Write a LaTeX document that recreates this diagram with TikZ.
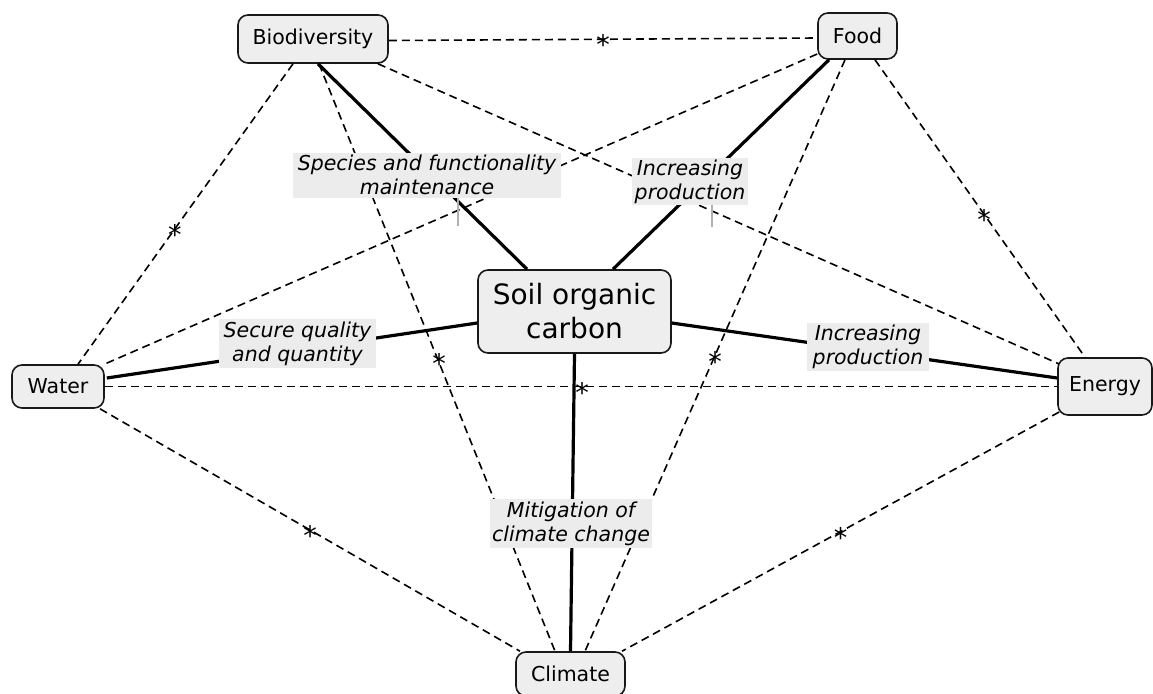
\documentclass[tikz,border=0pt]{standalone}
\usepackage{fontspec}
\setmainfont{DejaVu Sans}
\definecolor{boxgray}{HTML}{EEEEEE}
\definecolor{labgray}{HTML}{ECECEC}
\definecolor{tickgray}{HTML}{B0B0B0}
\begin{document}
\begin{tikzpicture}[x=1pt,y=-1pt,
  box/.style={draw=black!90, line width=1.6pt, rounded corners=10pt, fill=boxgray,
    inner sep=0pt, align=center, font=\fontsize{20.5}{24}\selectfont},
  lab/.style={fill=labgray, inner sep=0pt, align=center, font=\fontsize{20.5}{24}\selectfont\itshape},
  strong/.style={line width=3.2pt},
  dsh/.style={line width=1.6pt, dash pattern=on 8pt off 5pt},
  ast/.style={font=\fontsize{27}{30}\selectfont, inner sep=0pt, yshift=-5.5pt},
  tick/.style={draw=tickgray, line width=1.2pt}
]
\useasboundingbox (0,0) rectangle (1153,693);

% main nodes
\node[box, minimum width=150pt, minimum height=48pt] (bio) at (313,39) {Biodiversity};
\node[box, minimum width=79pt, minimum height=46pt] (food) at (857.5,36) {Food};
\node[box, minimum width=92pt, minimum height=43pt] (water) at (58,386.5) {Water};
\node[box, minimum width=94pt, minimum height=57pt] (energy) at (1105,386.5) {Energy};
\node[box, minimum width=193pt, minimum height=83pt, font=\fontsize{28}{34}\selectfont] (soc) at (574.5,311.5) {Soil organic\\carbon};
\node[box, minimum width=109pt, minimum height=44pt] (climate) at (570.5,674) {Climate};

% dashed connectors
\draw[dsh] ([yshift=-1.5pt]bio.east) -- node[ast]{*} ([yshift=-2pt]food.west);
\draw[dsh] ([xshift=-20pt]bio.south) -- node[ast, pos=0.55]{*} ([xshift=20pt]water.north);
\draw[dsh] ([xshift=6pt]bio.south) -- node[ast, xshift=2pt]{*} ([xshift=-15.5pt]climate.north);
\draw[dsh] ([xshift=65pt]bio.south) -- ([xshift=2pt,yshift=22.5pt]energy.west);
\draw[dsh] ([yshift=-18pt]food.west) -- ([yshift=22.5pt]water.east);
\draw[dsh] ([xshift=-12.5pt]food.south) -- node[ast]{*} ([xshift=14.5pt]climate.north);
\draw[dsh] ([xshift=17.5pt]food.south) -- node[ast, pos=0.52]{*} ([xshift=-20pt]energy.north);
\draw[dsh] (water.east) -- node[ast, xshift=1pt]{*} (energy.west);
\draw[dsh] ([xshift=42pt]water.south) -- node[ast]{*} ([xshift=-50.5pt]climate.north);
\draw[dsh] ([xshift=2pt,yshift=-25.5pt]energy.west) -- node[ast]{*} ([xshift=51.5pt]climate.north);

% solid connectors
\draw[strong] ([xshift=5pt]bio.south) -- ([xshift=-47.5pt]soc.north);
\draw[strong] ([xshift=-28.5pt]food.south) -- ([xshift=38.5pt]soc.north);
\draw[strong] ([xshift=2pt,yshift=8.5pt]water.east) -- ([yshift=-11.5pt]soc.west);
\draw[strong] ([yshift=-11.5pt]soc.east) -- ([yshift=8.5pt]energy.west);
\draw[strong] (soc.south) -- (climate.north);

% labels
\node[lab, minimum width=268pt, minimum height=45pt] (l1) at (427,175) {Species and functionality\\maintenance};
\node[lab, minimum width=116pt, minimum height=47pt] (l2) at (690,181.5) {Increasing\\production};
\node[lab, minimum width=157pt, minimum height=49pt] (l3) at (297.5,343.5) {Secure quality\\and quantity};
\node[lab, minimum width=122pt, minimum height=48pt] (l4) at (868,347) {Increasing\\production};
\node[lab, minimum width=162pt, minimum height=49pt] (l5) at (571,523.5) {Mitigation of\\climate change};

% small gray ticks below the upper labels
\draw[tick] ([xshift=31pt]l1.south) -- ++(0,28);
\draw[tick] ([xshift=22pt]l2.south) -- ++(0,22);
\end{tikzpicture}
\end{document}
